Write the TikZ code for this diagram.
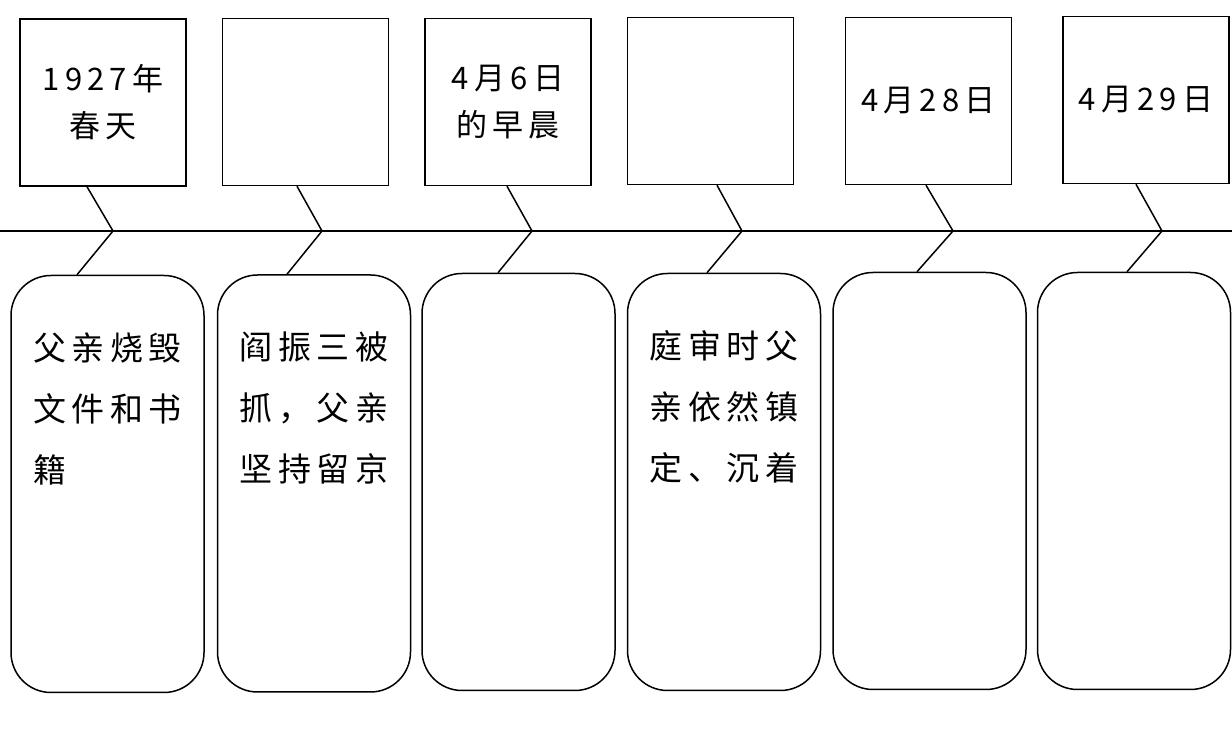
\documentclass[tikz,border=0pt]{standalone}
\usepackage{fontspec}
\newfontfamily\cjk[LetterSpace=17]{Noto Sans CJK SC}
\begin{document}
\begin{tikzpicture}[x=1pt, y=1pt, line width=1.5pt,
  datebox/.style={draw, minimum width=166pt, minimum height=167pt, inner sep=0pt,
    align=center, font={\fontsize{31}{47}\selectfont\cjk}},
  eventbox/.style={draw, rounded corners=40pt, minimum width=193pt, minimum height=417pt, inner sep=0pt},
  eventtext/.style={anchor=north west, inner sep=0pt, align=left,
    font={\fontsize{33}{61}\selectfont\cjk}}]

\useasboundingbox (0,0) rectangle (1232,751);

% Time axis
\draw (0,520) -- (1232,520);

% Date boxes (top row)
\node[datebox] (d1) at (103,648.5) {1927年\\春天};
\node[datebox] (d2) at (305.5,649) {};
\node[datebox] (d3) at (508,649) {4月6日\\的早晨};
\node[datebox] (d4) at (710.5,650) {};
\node[datebox] (d5) at (928.5,650) {4月28日};
\node[datebox] (d6) at (1146,651) {4月29日};

% Event boxes (bottom row)
\node[eventbox] (e1) at (107.5,267) {};
\node[eventbox] (e2) at (314,267.5) {};
\node[eventbox] (e3) at (518.5,269) {};
\node[eventbox] (e4) at (724,269) {};
\node[eventbox] (e5) at (929.5,270) {};
\node[eventbox] (e6) at (1134,270) {};

% Event texts
\node[eventtext] (t1) at ([xshift=22pt,yshift=-57pt]e1.north west) {父亲烧毁\\文件和书\\籍};
\node[eventtext] (t2) at ([xshift=22pt,yshift=-57pt]e2.north west) {阎振三被\\抓，父亲\\坚持留京};
\node[eventtext] (t4) at ([xshift=22pt,yshift=-57pt]e4.north west) {庭审时父\\亲依然镇\\定、沉着};

% Kinks on the axis
\coordinate (k1) at (113,520);
\coordinate (k2) at (322,520);
\coordinate (k3) at (532,520);
\coordinate (k4) at (742,520);
\coordinate (k5) at (953,520);
\coordinate (k6) at (1162,520);

% Zigzag links: date box -> axis -> event box
\draw ([xshift=-16pt]d1.south) -- (k1) -- ([xshift=-30.5pt]e1.north);
\draw ([xshift=-8.5pt]d2.south) -- (k2) -- ([xshift=-27pt]e2.north);
\draw ([xshift=-1pt]d3.south) -- (k3) -- ([xshift=-20.5pt]e3.north);
\draw ([xshift=6.5pt]d4.south) -- (k4) -- ([xshift=-17pt]e4.north);
\draw ([xshift=-2.5pt]d5.south) -- (k5) -- ([xshift=-12.5pt]e5.north);
\draw ([xshift=-10pt]d6.south) -- (k6) -- ([xshift=-7pt]e6.north);

\end{tikzpicture}
\end{document}
